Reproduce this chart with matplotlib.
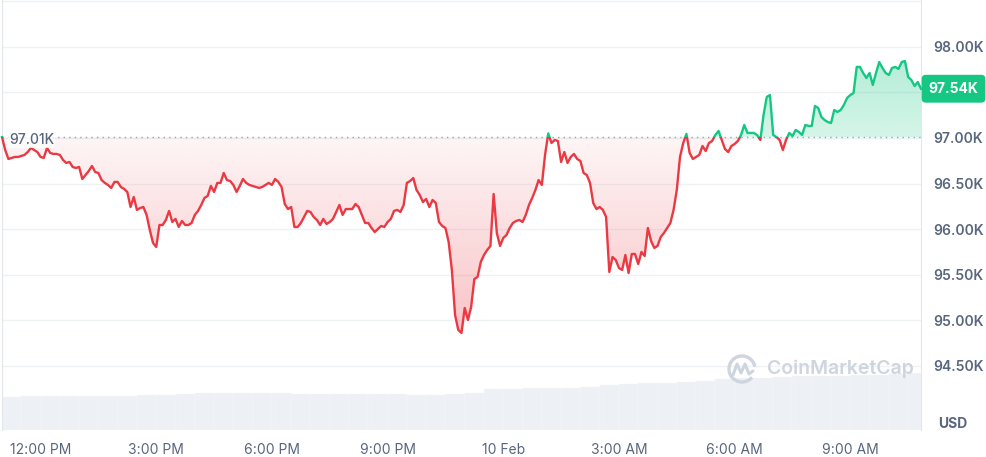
import numpy as np
import pandas as pd
import matplotlib
matplotlib.use("Agg")
import matplotlib.pyplot as plt
import matplotlib.dates as mdates
import matplotlib.transforms as mtransforms
from matplotlib.colors import to_rgb
from matplotlib.patches import Rectangle, Arc

plt.rcParams["font.family"] = ["Inter", "DejaVu Sans"]

# BTC price (USD), 5-minute points from 9 Feb 11:00 to 10 Feb 10:50
prices = [
    97010, 96868, 96770, 96781, 96792, 96792, 96803, 96814, 96846, 96890, 96868, 96846,
    96792, 96781, 96890, 96836, 96825, 96825, 96814, 96759, 96726, 96737, 96682, 96671,
    96682, 96550, 96594, 96638, 96693, 96627, 96616, 96539, 96507, 96485, 96452, 96518,
    96518, 96463, 96441, 96408, 96243, 96353, 96211, 96232, 96243, 96156, 95991, 95849,
    95805,
    96046, 96046, 96101, 96200, 96079, 96112, 96024, 96090, 96046, 96046, 96068, 96156,
    96200, 96265, 96342, 96364, 96474, 96408, 96507, 96507, 96616, 96539, 96528, 96485,
    96408, 96474, 96550, 96507, 96485, 96474, 96463, 96452, 96463, 96485, 96507, 96485,
    96550, 96518, 96463, 96276, 96221, 96243, 96024, 96024, 96068, 96134, 96200,
    96189, 96134, 96101, 96046, 96112, 96057, 96079, 96112, 96189, 96265, 96156, 96221,
    96221, 96221, 96276, 96243, 96156, 96068, 96068, 96013, 95969, 96002, 96035, 96024,
    96079, 96112, 96200, 96211, 96189, 96265, 96507, 96528, 96561, 96430, 96375, 96298,
    96331, 96243, 96320, 96287, 96079, 96035, 96013, 95860, 95553,
    95059, 94895, 94862, 95136, 95004, 95147, 95454, 95476, 95640, 95717, 95772, 95816,
    96386, 95958, 95816, 95904, 95936, 96013, 96068, 96090, 96101, 96079, 96156, 96265,
    96342, 96430, 96539, 96485, 96814, 97050, 96945, 96978, 96967, 96737, 96846, 96726,
    96792, 96825, 96770, 96748, 96616, 96594, 96507, 96287, 96221,
    96243, 96211, 96134, 95531, 95695, 95662, 95575, 95553, 95717, 95520, 95728, 95728,
    95618, 95750, 95706, 96013, 95871, 95794, 95816, 95914, 95958, 96013, 96068, 96211,
    96430, 96792, 96945, 97045, 96836, 96770, 96792, 96814, 96912, 96857, 96945, 96967,
    97033, 97077, 96978, 96879, 96846, 96912, 96934, 96967, 97033, 97143, 97055, 97055,
    97055, 97033, 96978, 97252, 97450, 97471, 97033, 97011, 96978, 96868, 96978, 97055,
    97022, 97088, 97066, 97033, 97143, 97132, 97132, 97351, 97329, 97230, 97197, 97175,
    97164, 97307, 97285, 97307, 97362, 97439, 97471, 97493, 97779, 97779, 97713, 97658,
    97713, 97581, 97713, 97833, 97768, 97713, 97691, 97768, 97779, 97757, 97833, 97844,
    97669, 97636, 97570, 97614, 97540,
]
start_time = "2025-02-09 11:00"
open_price = 97010
open_label = "97.01K"
last_label = "97.54K"

# 24h volume (billion USD), one bar per 30 minutes
volume = [
    27.0, 27.9, 27.7, 27.6, 27.7, 27.8, 28.0, 28.1, 28.3, 29.3,
    30.1, 30.3, 30.3, 30.1, 29.9, 29.5, 29.3, 29.0, 28.9, 29.2,
    29.0, 28.6, 28.8, 29.4, 30.5, 33.0, 33.6, 34.0, 34.2, 34.5,
    35.0, 36.5, 37.5, 38.0, 38.6, 39.0, 40.0, 41.5, 42.0, 42.6,
    43.2, 43.6, 43.9, 44.2, 44.6, 45.1, 45.8, 46.4,
]

tick_times = ["2025-02-09 12:00", "2025-02-09 15:00", "2025-02-09 18:00", "2025-02-09 21:00",
              "2025-02-10 00:00", "2025-02-10 03:00", "2025-02-10 06:00", "2025-02-10 09:00"]
tick_labels = ["12:00 PM", "3:00 PM", "6:00 PM", "9:00 PM", "10 Feb", "3:00 AM", "6:00 AM", "9:00 AM"]
price_ticks = [94500, 95000, 95500, 96000, 96500, 97000, 97500, 98000, 98500]
price_tick_labels = ["94.50K", "95.00K", "95.50K", "96.00K", "96.50K", "97.00K", "", "98.00K", ""]

RED = "#ea3943"
GREEN = "#16c784"
TXT = "#58667e"
GRID = "#eff2f5"

times = pd.date_range(start_time, periods=len(prices), freq="5min")
vol_times = pd.date_range(start_time, periods=len(volume), freq="30min")
p = np.array(prices, dtype=float)
xn = mdates.date2num(times)
ylo, yhi = 93798, 98513

fig = plt.figure(figsize=(9.86, 4.57), dpi=100)
ax = fig.add_axes([2 / 986, 27 / 457, 919 / 986, 430 / 457])

# volume bars underneath
ax2 = ax.twinx()
ax.set_zorder(2)
ax2.set_zorder(1)
ax.patch.set_visible(False)
ax2.bar(vol_times, volume, width=1 / 48, align="edge", color="#edf0f4",
        edgecolor="#f7f8fa", linewidth=0.3)
ax2.set_ylim(0, 350)
ax2.set_yticks([])
for s in ax2.spines.values():
    s.set_visible(False)

# gradient fills
lo = np.minimum(p, open_price)
hi = np.maximum(p, open_price)
red_poly = ax.fill_between(times, lo, open_price, color="none", lw=0)
green_poly = ax.fill_between(times, open_price, hi, color="none", lw=0)

g = np.zeros((256, 1, 4))
g[..., :3] = to_rgb(RED)
g[..., 3] = np.linspace(0.30, 0.05, 256)[:, None]
img = ax.imshow(g, extent=[xn[0], xn[-1], p.min(), open_price], origin="lower",
                aspect="auto", zorder=1, interpolation="bilinear")
img.set_clip_path(red_poly.get_paths()[0], transform=ax.transData)

g2 = np.zeros((256, 1, 4))
g2[..., :3] = to_rgb(GREEN)
g2[..., 3] = np.linspace(0.18, 0.32, 256)[:, None]
img2 = ax.imshow(g2, extent=[xn[0], xn[-1], open_price, p.max()], origin="lower",
                 aspect="auto", zorder=1, interpolation="bilinear")
img2.set_clip_path(green_poly.get_paths()[0], transform=ax.transData)

# baseline
ax.axhline(open_price, color="#9aa3b0", lw=1, ls=(0, (1, 3)), zorder=2)

# price line, red below the open and green above
span = xn[-1] - xn[0]
below = Rectangle((xn[0] - 1, ylo), span + 2, open_price - ylo, transform=ax.transData)
above = Rectangle((xn[0] - 1, open_price), span + 2, yhi - open_price, transform=ax.transData)
l1, = ax.plot(times, p, color=RED, lw=1.7, zorder=3, solid_joinstyle="round")
l1.set_clip_path(below)
l2, = ax.plot(times, p, color=GREEN, lw=1.7, zorder=3, solid_joinstyle="round")
l2.set_clip_path(above)

ax.set_xlim(times[0], times[-1])
ax.set_ylim(ylo, yhi)

ax.set_xticks(pd.to_datetime(tick_times))
ax.set_xticklabels(tick_labels)
ax.yaxis.tick_right()
ax.set_yticks(price_ticks)
ax.set_yticklabels(price_tick_labels)
for t in ax.get_yticklabels():
    t.set_fontweight("semibold")
ax.tick_params(axis="x", length=0, pad=9, labelsize=10, labelcolor=TXT)
ax.tick_params(axis="y", length=0, pad=9, labelsize=10, labelcolor=TXT)
ax.grid(axis="y", color=GRID, lw=1)
ax.set_axisbelow(True)
for side in ["top", "bottom"]:
    ax.spines[side].set_visible(False)
for side in ["left", "right"]:
    ax.spines[side].set_color("#e3e6eb")

trans = mtransforms.blended_transform_factory(ax.transAxes, ax.transData)
ax.text(0.0075, open_price - 30, open_label, transform=trans, ha="left", va="center",
        fontsize=10, color=TXT, fontweight="medium", zorder=5,
        bbox=dict(boxstyle="square,pad=0.1", fc="white", ec="none", alpha=0.75))
ax.text(1.0354, prices[-1], last_label, transform=trans, ha="center", va="center",
        fontsize=10, color="white", fontweight="bold", zorder=6, clip_on=False,
        bbox=dict(boxstyle="round,pad=0.5,rounding_size=0.3", fc=GREEN, ec="none"))

fig.text(953 / 986, 1 - 424 / 457, "USD", ha="center", va="center", fontsize=10,
         fontweight="bold", color=TXT)

# watermark
ov = fig.add_axes([0, 0, 1, 1], zorder=10)
ov.set_xlim(0, 986)
ov.set_ylim(457, 0)
ov.axis("off")
wm = "#cfd5de"
ov.add_patch(Arc((742, 369), 26, 26, theta1=40, theta2=350, color=wm, lw=2.4))
ov.plot([733, 737, 741, 745, 749, 753], [375, 364, 373, 364, 374, 371], color=wm, lw=2.2,
        solid_joinstyle="round", solid_capstyle="round")
ov.text(767, 369, "CoinMarketCap", ha="left", va="center", fontsize=14,
        fontweight="semibold", color=wm)

fig.savefig("out.png", dpi=100)
